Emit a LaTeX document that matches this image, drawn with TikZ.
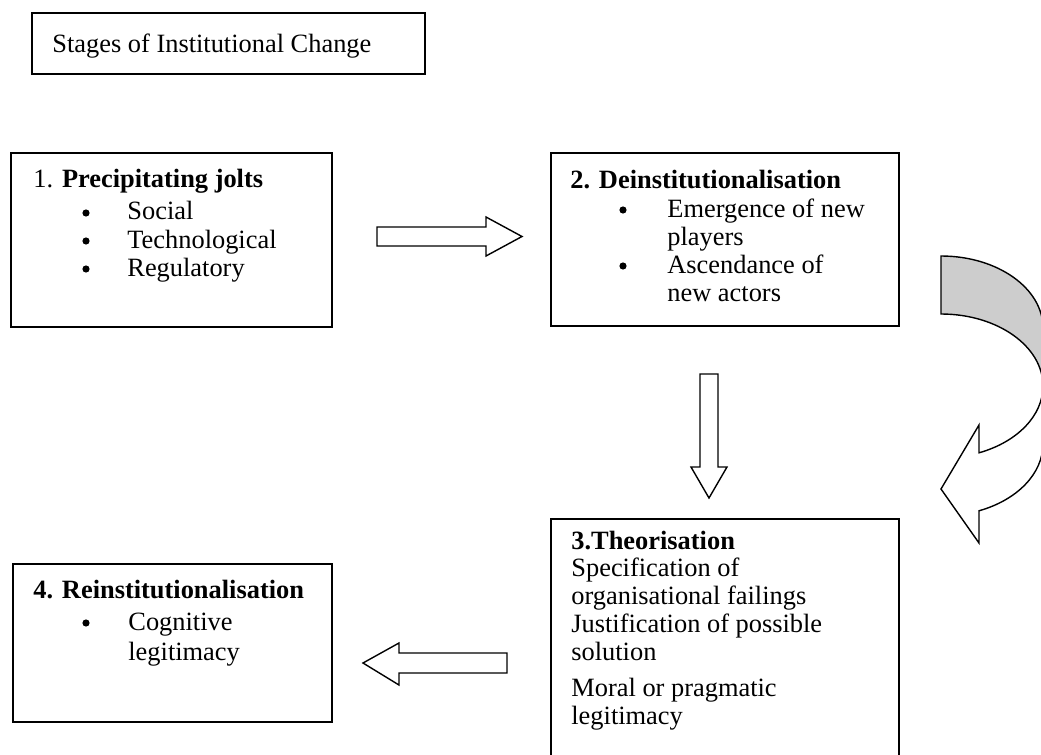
\documentclass[tikz,border=0pt]{standalone}
\usepackage{fontspec}
\setmainfont{Liberation Serif}
\definecolor{backgrey}{RGB}{205,205,205}
\begin{document}
\begin{tikzpicture}[x=0.5pt,y=-0.5pt,
  box/.style={draw, line width=0.8pt, inner sep=0pt, anchor=north west},
  txt/.style={anchor=base west, inner sep=0pt, font=\fontsize{13.2pt}{15pt}\selectfont},
  bul/.style={circle, fill=black, inner sep=0pt, minimum size=3.6pt},
  blockarrow/.style={draw, line width=0.7pt, fill=white, line join=miter}]
\useasboundingbox (0,0) rectangle (1041,755);
\clip (0,0) rectangle (1041,755);

% title
\node[box, minimum width=196.5pt, minimum height=30.5pt] (title) at (31,12) {};
\node[txt] (titletext) at (52,53) {Stages of Institutional Change};

% box 1
\node[box, minimum width=160.5pt, minimum height=87pt] (b1) at (10,152) {};
\node[txt] (b1h) at (33,187) {1. \textbf{Precipitating jolts}};
\node[bul] (b1d1) at (86,213) {};
\node[txt] (b1i1) at (127,220) {Social};
\node[bul] (b1d2) at (86,241) {};
\node[txt] (b1i2) at (127,248) {Technological};
\node[bul] (b1d3) at (86,269) {};
\node[txt] (b1i3) at (127,276) {Regulatory};

% box 2
\node[box, minimum width=174pt, minimum height=86.5pt] (b2) at (550,152) {};
\node[txt] (b2h) at (570,188) {\textbf{2. Deinstitutionalisation}};
\node[bul] (b2d1) at (623,210) {};
\node[txt] (b2i1) at (667,217) {Emergence of new};
\node[txt] (b2i1b) at (667,245) {players};
\node[bul] (b2d2) at (623,266) {};
\node[txt] (b2i2) at (667,273) {Ascendance of};
\node[txt] (b2i2b) at (667,301) {new actors};

% box 3
\node[box, minimum width=174pt, minimum height=125pt] (b3) at (550,518) {};
\node[txt] (b3h) at (571,549) {\textbf{3.Theorisation}};
\node[txt] (b3l1) at (571,576) {Specification of};
\node[txt] (b3l2) at (571,604) {organisational failings};
\node[txt] (b3l3) at (571,632) {Justification of possible};
\node[txt] (b3l4) at (571,660) {solution};
\node[txt] (b3l5) at (571,696) {Moral or pragmatic};
\node[txt] (b3l6) at (571,724) {legitimacy};

% box 4
\node[box, minimum width=159.5pt, minimum height=79pt] (b4) at (12,563) {};
\node[txt] (b4h) at (33,598) {\textbf{4. Reinstitutionalisation}};
\node[bul] (b4d1) at (86,623) {};
\node[txt] (b4i1) at (128,630) {Cognitive};
\node[txt] (b4i1b) at (128,660) {legitimacy};

% block arrows
\draw[blockarrow] (377,227) -- (486,227) -- (486,217) -- (522,236.5) -- (486,256) -- (486,246) -- (377,246) -- cycle;
\draw[blockarrow] (700,374) -- (718,374) -- (718,467) -- (727,467) -- (709,498) -- (691,467) -- (700,467) -- cycle;
\draw[blockarrow] (507,653) -- (399,653) -- (399,643) -- (363,663) -- (399,685) -- (399,673) -- (507,673) -- cycle;

% curved arrow: back (grey) part
\draw[line width=0.7pt, fill=backgrey] (941,256)
  arc[start angle=-90, end angle=0, x radius=102, y radius=72]
  -- (1043,386)
  arc[start angle=0, end angle=-90, x radius=102, y radius=72]
  -- cycle;
% curved arrow: front part with head
\draw[blockarrow] (1043,386)
  arc[start angle=0, end angle=68.1, x radius=102, y radius=72]
  -- (979,425) -- (941,489) -- (979,543) -- (979,510.8)
  arc[start angle=68.1, end angle=0, x radius=102, y radius=72]
  -- cycle;
\end{tikzpicture}
\end{document}
